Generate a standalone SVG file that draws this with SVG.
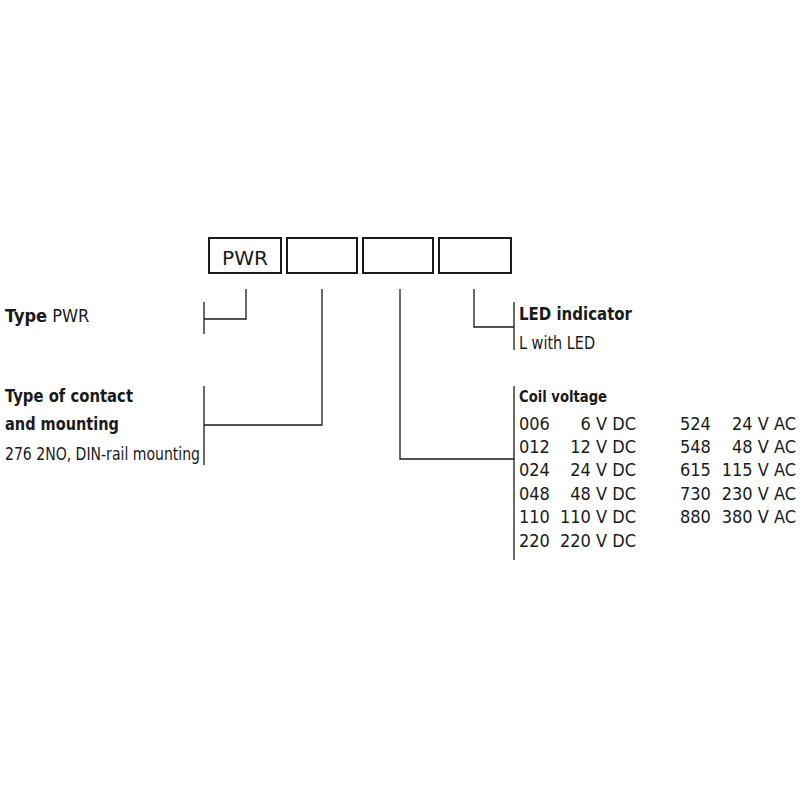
<svg xmlns="http://www.w3.org/2000/svg" width="800" height="800" viewBox="0 0 800 800">
<style>
text{font-family:"DejaVu Sans Condensed","Liberation Sans Narrow","Liberation Sans",sans-serif;font-size:18px;fill:#1a1a1a}
.b{font-weight:bold;font-size:18px}
.r{text-anchor:end}
.box{fill:#fff;stroke:#1a1a1a;stroke-width:2}
.ln{fill:none;stroke:#1a1a1a;stroke-width:1.3}
</style>
<rect width="800" height="800" fill="#fff"/>
<g id="box1"><rect class="box" x="209" y="238" width="72" height="35"/><text x="222" y="265" font-size="20" style="font-size:20px" textLength="46" lengthAdjust="spacingAndGlyphs">PWR</text></g>
<g id="box2"><rect class="box" x="287" y="238" width="70" height="35"/></g>
<g id="box3"><rect class="box" x="363" y="238" width="70" height="35"/></g>
<g id="box4"><rect class="box" x="439" y="238" width="72" height="35"/></g>
<g id="connectors">
<path class="ln" d="M246 289V319H204M204 302V334"/>
<path class="ln" d="M322 289V425H204M204 386V465"/>
<path class="ln" d="M400 289V459H514M514 386V560"/>
<path class="ln" d="M474 289V327H514M514 302V350"/>
</g>
<g id="type"><text x="5" y="322"><tspan class="b">Type</tspan>  PWR</text></g>
<g id="contact"><text x="5" y="402" class="b" textLength="128" lengthAdjust="spacingAndGlyphs">Type of contact</text><text x="5" y="430" class="b" textLength="114" lengthAdjust="spacingAndGlyphs">and mounting</text><text x="5" y="460" textLength="195" lengthAdjust="spacingAndGlyphs">276 2NO, DIN-rail mounting</text></g>
<g id="led"><text x="519" y="320" class="b" textLength="113" lengthAdjust="spacingAndGlyphs">LED indicator</text><text x="519" y="349" textLength="76" lengthAdjust="spacingAndGlyphs">L with LED</text></g>
<g id="coil"><text x="519" y="402" class="b" style="font-size:16px" textLength="88" lengthAdjust="spacingAndGlyphs">Coil voltage</text>
<text x="519" y="430">006</text><text x="636" y="430" class="r">6 V DC</text>
<text x="519" y="453">012</text><text x="636" y="453" class="r">12 V DC</text>
<text x="519" y="476">024</text><text x="636" y="476" class="r">24 V DC</text>
<text x="519" y="500">048</text><text x="636" y="500" class="r">48 V DC</text>
<text x="519" y="523">110</text><text x="636" y="523" class="r">110 V DC</text>
<text x="519" y="547">220</text><text x="636" y="547" class="r">220 V DC</text>
<text x="680" y="430">524</text><text x="796" y="430" class="r">24 V AC</text>
<text x="680" y="453">548</text><text x="796" y="453" class="r">48 V AC</text>
<text x="680" y="476">615</text><text x="796" y="476" class="r">115 V AC</text>
<text x="680" y="500">730</text><text x="796" y="500" class="r">230 V AC</text>
<text x="680" y="523">880</text><text x="796" y="523" class="r">380 V AC</text>
</g>
</svg>
